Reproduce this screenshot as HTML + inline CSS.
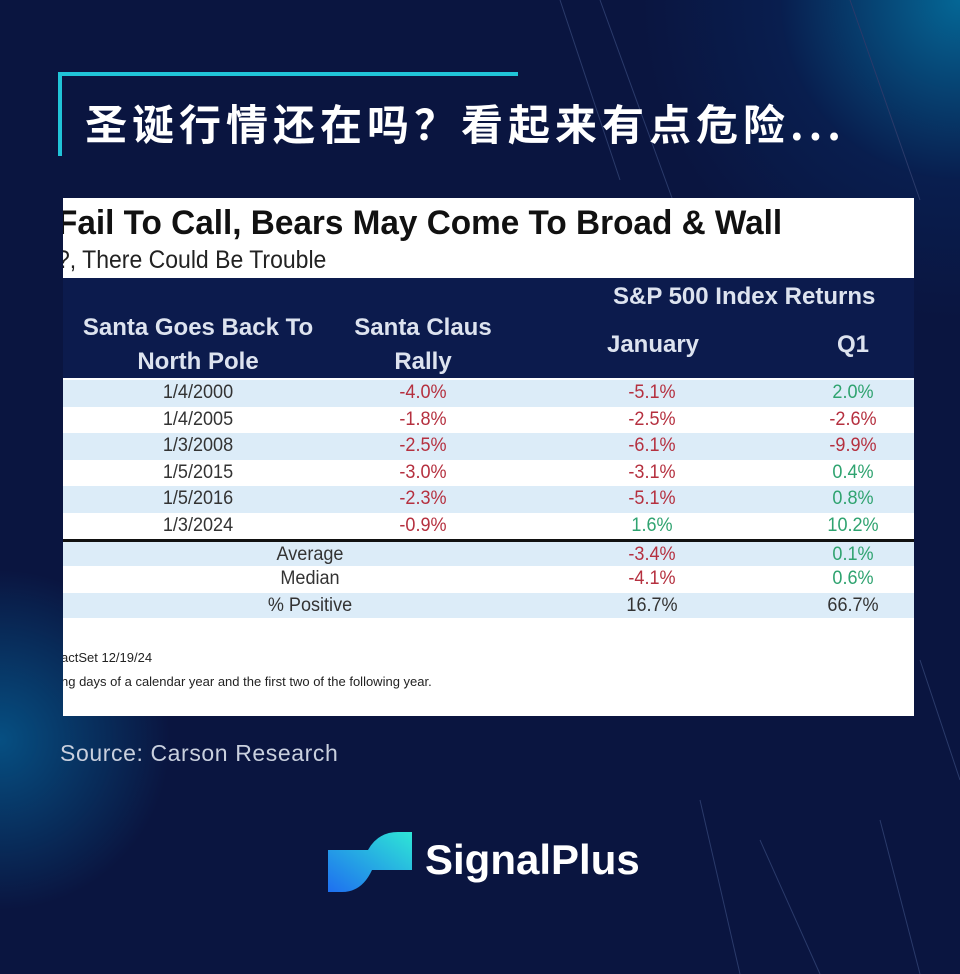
<!DOCTYPE html>
<html><head><meta charset="utf-8"><style>
body{margin:0;width:960px;height:974px;overflow:hidden;background:#0a1540;font-family:"Liberation Sans","Noto Sans CJK SC",sans-serif;position:relative}
.bg{position:absolute;inset:0;background:radial-gradient(circle at 960px 0px,rgba(0,170,220,.55),rgba(0,80,160,.15) 180px,transparent 320px),radial-gradient(circle at 0px 740px,rgba(0,150,210,.45),transparent 170px),#0a1540}
.t{position:absolute;left:85px;top:92px;color:#fff;font-size:42px;font-weight:bold;letter-spacing:5px;white-space:nowrap;font-family:"Noto Sans CJK SC",sans-serif}
.ln1{position:absolute;left:58px;top:72px;width:460px;height:4px;background:#20c4d8}
.ln2{position:absolute;left:58px;top:72px;width:4px;height:84px;background:#20c4d8}
.img{position:absolute;left:63px;top:198px;width:851px;height:518px;background:#fff;overflow:hidden;font-family:"Liberation Sans",sans-serif}
.h1{position:absolute;left:-6px;top:6px;font-size:34px;font-weight:bold;color:#111;white-space:nowrap;transform:scaleX(.98);transform-origin:left}
.h2{position:absolute;left:-6px;top:48px;font-size:25px;color:#222;white-space:nowrap;transform:scaleX(.92);transform-origin:left}
.hd{position:absolute;left:0;top:80px;width:851px;height:100px;background:#0c1b4d;color:#dde3ef;font-weight:bold;font-size:24px}
.hd div{position:absolute;text-align:center;line-height:34px;white-space:nowrap}
.r{position:absolute;left:0;width:851px;height:26.5px;font-size:19px;line-height:26.5px;color:#333}
.r span{position:absolute;transform:translateX(-50%) scaleX(.95)}
.b{background:#dcecf8}
.red{color:#b5303f}.grn{color:#2fa370}
.src{position:absolute;left:60px;top:740px;color:#c9d0de;font-size:23px;letter-spacing:.6px}
.logo{position:absolute;left:425px;top:836px;color:#fff;font-size:42px;font-weight:bold}
</style></head><body>
<div class="bg"></div>
<svg width="960" height="974" style="position:absolute;left:0;top:0" stroke="#2a3a6a" stroke-width="1" fill="none">
<path d="M560 0 L620 180 M600 0 L680 220 M850 0 L920 200 M700 800 L740 974 M760 840 L820 974 M880 820 L920 974 M920 660 L960 780"/>
</svg>
<div class="ln1"></div><div class="ln2"></div>
<div class="t">圣诞行情还在吗？看起来有点危险...</div>
<div class="img">
<div class="h1">Fail To Call, Bears May Come To Broad &amp; Wall</div>
<div class="h2">?, There Could Be Trouble</div>
<div class="hd">
<div style="left:550px;top:2px">S&amp;P 500 Index Returns</div>
<div style="left:0;width:270px;top:33px">Santa Goes Back To<br>North Pole</div>
<div style="left:290px;width:140px;top:33px">Santa Claus<br>Rally</div>
<div style="left:520px;width:140px;top:50px">January</div>
<div style="left:740px;width:100px;top:50px">Q1</div>
</div>
<div class="r b" style="top:182px"><span style="left:135px">1/4/2000</span><span class="red" style="left:360px">-4.0%</span><span class="red" style="left:589px">-5.1%</span><span class="grn" style="left:790px">2.0%</span></div>
<div class="r" style="top:208.5px"><span style="left:135px">1/4/2005</span><span class="red" style="left:360px">-1.8%</span><span class="red" style="left:589px">-2.5%</span><span class="red" style="left:790px">-2.6%</span></div>
<div class="r b" style="top:235px"><span style="left:135px">1/3/2008</span><span class="red" style="left:360px">-2.5%</span><span class="red" style="left:589px">-6.1%</span><span class="red" style="left:790px">-9.9%</span></div>
<div class="r" style="top:261.5px"><span style="left:135px">1/5/2015</span><span class="red" style="left:360px">-3.0%</span><span class="red" style="left:589px">-3.1%</span><span class="grn" style="left:790px">0.4%</span></div>
<div class="r b" style="top:288px"><span style="left:135px">1/5/2016</span><span class="red" style="left:360px">-2.3%</span><span class="red" style="left:589px">-5.1%</span><span class="grn" style="left:790px">0.8%</span></div>
<div class="r" style="top:314.5px"><span style="left:135px">1/3/2024</span><span class="red" style="left:360px">-0.9%</span><span class="grn" style="left:589px">1.6%</span><span class="grn" style="left:790px">10.2%</span></div>
<div style="position:absolute;left:0;top:341px;width:851px;height:3px;background:#111"></div>
<div class="r b" style="top:344px;height:24px;line-height:26px"><span style="left:247px">Average</span><span class="red" style="left:589px">-3.4%</span><span class="grn" style="left:790px">0.1%</span></div>
<div class="r" style="top:368px;height:24px;line-height:26px"><span style="left:247px">Median</span><span class="red" style="left:589px">-4.1%</span><span class="grn" style="left:790px">0.6%</span></div>
<div class="r b" style="top:395px;height:25px;line-height:25px"><span style="left:247px">% Positive</span><span style="left:589px">16.7%</span><span style="left:790px">66.7%</span></div>
<div style="position:absolute;left:-2px;top:452px;font-size:13px;color:#222">actSet 12/19/24</div>
<div style="position:absolute;left:-2px;top:476px;font-size:13px;color:#222">ng days of a calendar year and the first two of the following year.</div>
</div>
<div class="src">Source: Carson Research</div>
<svg style="position:absolute;left:328px;top:830px" width="84" height="64">
<defs><linearGradient id="g" x1="0" y1="1" x2="1" y2="0"><stop offset="0" stop-color="#1e6ff0"/><stop offset="1" stop-color="#2ee6d6"/></linearGradient></defs>
<path d="M0 20 L40 20 Q50 2 70 2 L84 2 L84 40 L44 40 Q34 62 14 62 L0 62 Z" fill="url(#g)"/>
</svg>
<div class="logo">SignalPlus</div>
</body></html>
